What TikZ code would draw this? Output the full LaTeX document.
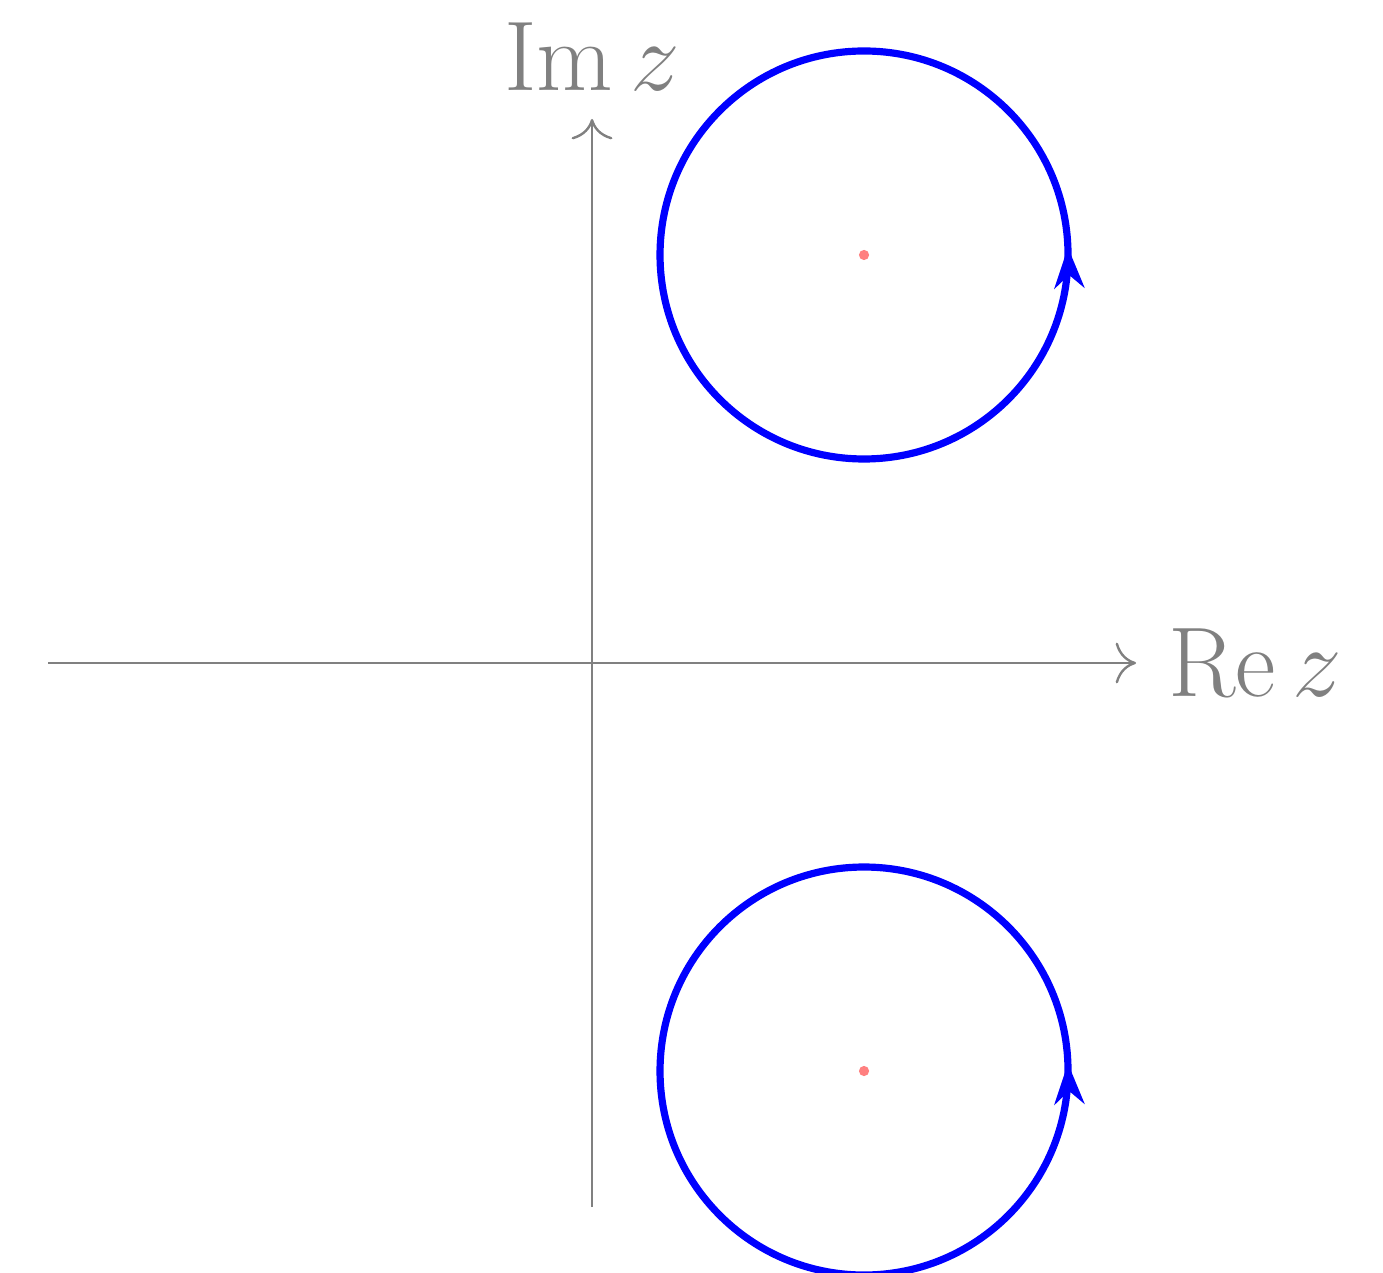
\documentclass[tikz,border=0pt]{standalone}
\usetikzlibrary{arrows.meta,decorations.markings}
\begin{document}
\begin{tikzpicture}[
  axis/.style={gray,line width=0.5pt,-{To[length=1.5mm,width=3mm]}},
  contour/.style={blue,line width=1.5pt,postaction={decorate},
    decoration={markings,mark=at position 0.006 with {\arrow{Stealth[length=3mm,width=2.2mm]}}}},
  pole/.style={circle,fill=red!50,inner sep=0pt,minimum size=0.75mm},
  lab/.style={gray,font=\fontsize{21.3}{25}\selectfont}
]
\useasboundingbox (-4.353,-4.485) rectangle (5.816,4.875);
\coordinate (xl) at (-4,0);
\coordinate (xr) at (4,0);
\coordinate (yb) at (0,-4);
\coordinate (yt) at (0,4);
\draw[axis] (xl) -- (xr);
\draw[axis] (yb) -- (yt);
\node[lab,anchor=west,inner sep=2.3mm] (re) at (xr) {$\mathrm{Re}\,z$};
\node[lab,anchor=south,inner sep=2mm] (im) at (yt) {$\mathrm{Im}\,z$};
\node[pole] (p1) at (2,3) {};
\node[pole] (p2) at (2,-3) {};
\draw[contour] (p1.center) circle[radius=1.5];
\draw[contour] (p2.center) circle[radius=1.5];
\end{tikzpicture}
\end{document}
